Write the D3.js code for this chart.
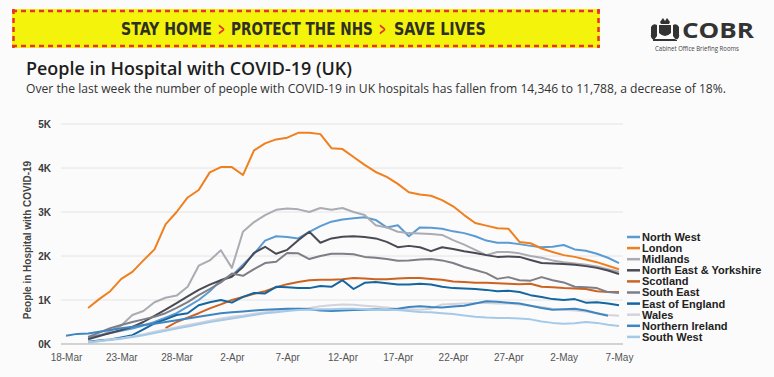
<!DOCTYPE html>
<html>
<head>
<meta charset="utf-8">
<script src="https://cdn.jsdelivr.net/npm/d3@7"></script>
<style>
  html, body { margin: 0; padding: 0; background: #fbfbfb; }
  svg { display: block; }
</style>
</head>
<body>
<div id="canvasRoot"></div>
<script>
// Series values, one per day from 18-Mar to 7-May (null = no data yet)
const regions = ["North West", "London", "Midlands", "North East & Yorkshire", "Scotland",
  "South East", "East of England", "Wales", "Northern Ireland", "South West"];
const colors = ["#5b9bd3", "#f07f1e", "#ababb3", "#4a4a55", "#cc6320",
  "#7e7e86", "#1566a0", "#d3d3db", "#3f85c0", "#a5c9e8"];

const northWest = [null, null, 150, 200, 250, 300, 350, 420, 500, 600, 700, 850, 1000, 1200, 1450, 1550, 1800, 2050, 2350, 2450, 2430, 2400, 2550, 2680, 2780, 2830, 2860, 2880, 2820, 2650, 2700, 2450, 2650, 2640, 2620, 2560, 2520, 2450, 2350, 2300, 2300, 2270, 2230, 2200, 2210, 2250, 2150, 2120, 2050, 1960, 1840];
const london = [null, null, 820, 1020, 1200, 1480, 1640, 1900, 2150, 2720, 3000, 3330, 3500, 3900, 4020, 4020, 3840, 4400, 4560, 4650, 4690, 4800, 4800, 4770, 4450, 4430, 4250, 4070, 3910, 3800, 3640, 3450, 3400, 3370, 3270, 3130, 2930, 2750, 2690, 2630, 2620, 2320, 2290, 2170, 2090, 2020, 1980, 1920, 1860, 1780, 1700];
const midlands = [null, null, 100, 180, 300, 420, 660, 750, 950, 1050, 1100, 1300, 1780, 1900, 2130, 1730, 2550, 2770, 2930, 3050, 3080, 3060, 3000, 3090, 3050, 3090, 3000, 2930, 2700, 2650, 2550, 2520, 2510, 2500, 2480, 2360, 2260, 2140, 2020, 2090, 2090, 2060, 2000, 1960, 1900, 1860, 1830, 1800, 1760, 1700, 1640];
const northEastYorks = [null, null, 110, 180, 250, 320, 390, 500, 640, 780, 930, 1080, 1230, 1350, 1450, 1530, 1750, 2070, 2210, 2050, 2140, 2360, 2550, 2300, 2400, 2440, 2450, 2430, 2400, 2320, 2200, 2230, 2200, 2110, 2200, 2160, 2110, 2070, 2020, 1980, 1990, 1980, 1910, 1840, 1830, 1820, 1800, 1770, 1730, 1670, 1590];
const scotland = [null, null, null, null, null, null, null, null, null, 360, 500, 600, 700, 810, 900, 1000, 1070, 1140, 1200, 1290, 1360, 1410, 1450, 1460, 1460, 1470, 1500, 1490, 1470, 1470, 1490, 1500, 1500, 1480, 1460, 1420, 1410, 1390, 1390, 1380, 1370, 1360, 1370, 1300, 1290, 1270, 1260, 1250, 1200, 1180, 1180];
const southEast = [null, null, 160, 260, 360, 430, 500, 560, 620, 700, 820, 950, 1110, 1250, 1400, 1600, 1550, 1700, 1840, 1870, 2070, 2060, 1930, 2000, 2050, 2050, 2040, 1980, 1960, 1930, 1890, 1900, 1920, 1930, 1900, 1840, 1750, 1680, 1610, 1480, 1520, 1450, 1440, 1520, 1450, 1400, 1300, 1290, 1270, 1180, 1160];
const eastOfEngland = [null, null, 50, 80, 100, 150, 200, 330, 470, 560, 660, 700, 880, 950, 1000, 940, 1070, 1160, 1150, 1300, 1290, 1270, 1270, 1320, 1300, 1450, 1250, 1390, 1410, 1380, 1350, 1350, 1370, 1350, 1300, 1270, 1260, 1250, 1230, 1200, 1210, 1180, 1110, 1070, 1020, 1000, 1020, 940, 950, 920, 880];
const wales = [null, null, 40, 70, 100, 130, 170, 220, 280, 330, 380, 430, 480, 530, 580, 620, 650, 690, 720, 760, 780, 800, 820, 860, 880, 900, 890, 870, 850, 830, 800, 790, 780, 800, 900, 910, 920, 930, 930, 920, 920, 900, 870, 840, 800, 780, 760, 740, 700, 660, 640];
const northernIreland = [190, 230, 240, 280, 320, 360, 390, 430, 460, 500, 540, 580, 620, 660, 700, 720, 740, 760, 780, 790, 800, 800, 790, 760, 750, 760, 770, 780, 790, 780, 800, 840, 860, 840, 830, 850, 870, 920, 970, 960, 940, 920, 870, 820, 780, 790, 800, 760, 700, 640, null];
const southWest = [null, null, 30, 60, 90, 120, 160, 200, 250, 300, 350, 400, 450, 500, 540, 580, 620, 660, 700, 720, 750, 770, 780, 790, 790, 800, 800, 790, 780, 780, 770, 750, 730, 720, 700, 680, 650, 620, 600, 590, 590, 580, 560, 510, 480, 460, 470, 500, 480, 440, 410];

const seriesValues = [northWest, london, midlands, northEastYorks, scotland,
  southEast, eastOfEngland, wales, northernIreland, southWest];

const yTicks = [0, 1000, 2000, 3000, 4000, 5000];
const xTickLabels = ["18-Mar", "23-Mar", "28-Mar", "2-Apr", "7-Apr", "12-Apr",
  "17-Apr", "22-Apr", "27-Apr", "2-May", "7-May"];


function main() {
  let [width, height] = [774, 377];
  let svg = d3.select("#canvasRoot")
    .append("svg")
    .attr("width", width)
    .attr("height", height);

  svg.append("rect")
    .attr("width", width)
    .attr("height", height)
    .attr("fill", "#fbfbfb");

  drawHeader(svg);

  //Scales
  let parse = d3.timeParse("%d-%b-%Y");
  let dates = d3.timeDays(parse("18-Mar-2020"), parse("08-May-2020"));
  let xScale = d3.scaleTime()
    .domain([dates[0], dates[dates.length - 1]])
    .range([66, 619]);
  let yScale = d3.scaleLinear()
    .domain([0, 5000])
    .range([344, 124]);

  //Gridlines
  svg.append("g")
    .selectAll("line")
    .data(yTicks)
    .enter()
      .append("line")
      .attr("x1", 61)
      .attr("x2", 623)
      .attr("y1", d => yScale(d))
      .attr("y2", d => yScale(d))
      .attr("stroke", d => d === 0 ? "#d2d2d2" : "#e4e4e4")
      .attr("stroke-width", d => d === 0 ? 2 : 1);

  //Axes
  let yAxis = svg.append("g")
    .attr("transform", "translate(61,0)")
    .call(d3.axisLeft(yScale)
      .tickValues(yTicks)
      .tickFormat(d => d / 1000 + "K")
      .tickSize(0)
      .tickPadding(10));
  yAxis.select(".domain").remove();
  yAxis.selectAll("text")
    .attr("font-family", "Liberation Sans, Arial, sans-serif")
    .attr("font-weight", "bold")
    .attr("font-size", 10)
    .attr("fill", "#3a3a3a");

  let fmt = d3.timeFormat("%-d-%b");
  let tickDates = dates.filter(d => xTickLabels.includes(fmt(d)));
  let xAxis = svg.append("g")
    .attr("transform", "translate(0,344)")
    .call(d3.axisBottom(xScale)
      .tickValues(tickDates)
      .tickFormat(fmt)
      .tickSize(0)
      .tickPadding(10));
  xAxis.select(".domain").remove();
  xAxis.selectAll("text")
    .attr("font-family", "Liberation Sans, Arial, sans-serif")
    .attr("font-size", 10)
    .attr("fill", "#555");

  svg.append("text")
    .attr("transform", "translate(31,240) rotate(-90)")
    .attr("text-anchor", "middle")
    .attr("font-family", "Liberation Sans, Arial, sans-serif")
    .attr("font-weight", "bold")
    .attr("font-size", 10)
    .attr("fill", "#444")
    .text("People in Hospital with COVID-19");

  //Lines
  let line = d3.line()
    .defined(d => d !== null)
    .x((_, i) => xScale(dates[i]))
    .y(d => yScale(d));
  svg.append("g")
    .selectAll("path")
    .data(seriesValues)
    .enter()
      .append("path")
      .attr("d", d => line(d))
      .attr("fill", "none")
      .attr("stroke", (_, i) => colors[i])
      .attr("stroke-width", 2)
      .attr("stroke-linejoin", "round");

  //Legend
  let legend = svg.append("g")
    .selectAll("g")
    .data(regions)
    .enter()
      .append("g")
      .attr("transform", (_, i) => `translate(627, ${237 + i * 11.1})`);
  legend.append("line")
    .attr("x1", 0)
    .attr("x2", 13)
    .attr("stroke", (_, i) => colors[i])
    .attr("stroke-width", 2.5);
  legend.append("text")
    .attr("x", 15)
    .attr("dy", "0.36em")
    .attr("font-family", "Liberation Sans, Arial, sans-serif")
    .attr("font-weight", "bold")
    .attr("font-size", 11)
    .attr("fill", "#222")
    .text(d => d);
}


function drawHeader(svg) {
  //Yellow banner with red dashed edges
  let banner = svg.append("g");
  banner.append("rect")
    .attr("x", 12)
    .attr("y", 9)
    .attr("width", 588)
    .attr("height", 39)
    .attr("fill", "#f3f30c");
  [[12, 11, 600, 11], [12, 46, 600, 46], [13.5, 9, 13.5, 48], [598.5, 9, 598.5, 48]]
    .forEach(([x1, y1, x2, y2]) => {
      banner.append("line")
        .attr("x1", x1).attr("y1", y1)
        .attr("x2", x2).attr("y2", y2)
        .attr("stroke", "#e5322a")
        .attr("stroke-width", 2.5)
        .attr("stroke-dasharray", "5 4");
    });

  //Slogan pieces: [text, x, width, colour], squeezed horizontally to fit
  [["STAY HOME", 121, 91, "#2f2f24"], [">", 218, 7, "#e5322a"],
    ["PROTECT THE NHS", 231, 142, "#2f2f24"], [">", 379, 7, "#e5322a"],
    ["SAVE LIVES", 394, 92, "#2f2f24"]]
    .forEach(([t, x, w, c]) => {
      let txt = banner.append("text")
        .attr("font-family", "Liberation Sans Narrow, DejaVu Sans Condensed, Roboto, sans-serif")
        .attr("font-weight", "bold")
        .attr("font-size", 17)
        .attr("fill", c)
        .text(t);
      let natural = txt.node().getComputedTextLength();
      txt.attr("transform", `translate(${x},35) scale(${w / natural},1)`);
    });

  //COBR mark
  let logo = svg.append("g").attr("fill", "#333");
  logo.append("path")
    .attr("d", "M660,22 l3,-4 l2,3 l2,-3 l3,4 l-1,2 h-8 z M659,25 h12 v8 q-6,6 -12,0 z M651,27 q2,-4 6,-2 v11 l-3,4 q-4,-2 -3,-6 z M679,27 q-2,-4 -6,-2 v11 l3,4 q4,-2 3,-6 z M653,39 h24 v2 h-24 z");
  logo.append("text")
    .attr("x", 682)
    .attr("y", 38)
    .attr("font-family", "Open Sans, sans-serif")
    .attr("font-weight", "bold")
    .attr("font-size", 21)
    .attr("textLength", 72)
    .attr("lengthAdjust", "spacingAndGlyphs")
    .text("COBR");
  logo.append("text")
    .attr("x", 655)
    .attr("y", 51)
    .attr("font-family", "Open Sans, sans-serif")
    .attr("font-size", 6.5)
    .attr("fill", "#444")
    .attr("textLength", 84)
    .attr("lengthAdjust", "spacingAndGlyphs")
    .text("Cabinet Office Briefing Rooms");

  //Title and subtitle
  svg.append("text")
    .attr("x", 26)
    .attr("y", 75)
    .attr("font-family", "Open Sans, sans-serif")
    .attr("font-weight", 600)
    .attr("font-size", 18.5)
    .attr("fill", "#1e1e1e")
    .attr("textLength", 326)
    .attr("lengthAdjust", "spacingAndGlyphs")
    .text("People in Hospital with COVID-19 (UK)");
  svg.append("text")
    .attr("x", 26)
    .attr("y", 93)
    .attr("font-family", "Open Sans, sans-serif")
    .attr("font-size", 12.5)
    .attr("fill", "#333")
    .attr("textLength", 700)
    .attr("lengthAdjust", "spacingAndGlyphs")
    .text("Over the last week the number of people with COVID-19 in UK hospitals has fallen from 14,346 to 11,788, a decrease of 18%.");
}


main();
</script>
</body>
</html>
